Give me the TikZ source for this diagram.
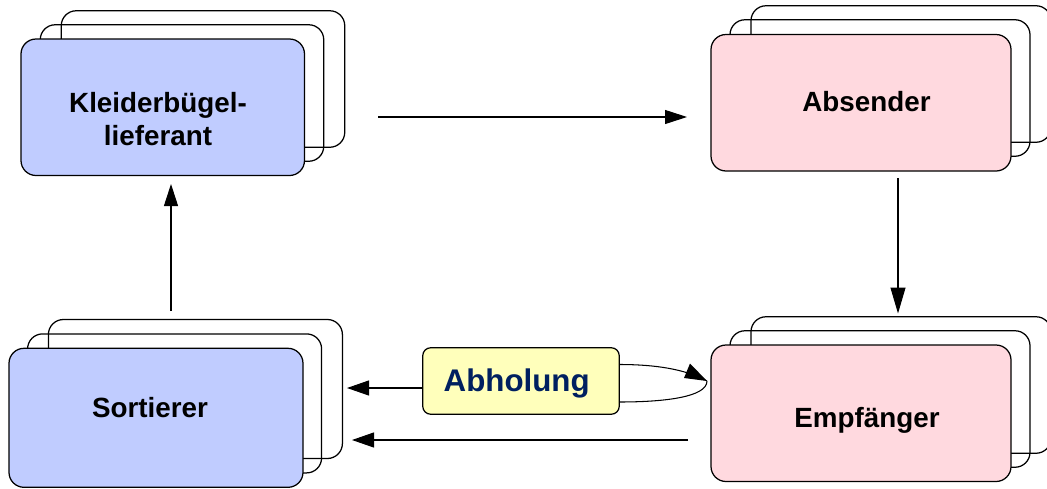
\documentclass[tikz,border=0pt]{standalone}
\usepackage{fontspec}
\setmainfont{Liberation Sans}
\usetikzlibrary{arrows.meta}
\definecolor{bluefill}{HTML}{C0CCFF}
\definecolor{pinkfill}{HTML}{FFD9DF}
\definecolor{yellowfill}{HTML}{FFFFBB}
\definecolor{navytext}{HTML}{002060}
\tikzset{
  x=1pt,y=-1pt,
  card/.style={draw=black,line width=1.25pt,rounded corners=15pt,inner sep=0pt,outer sep=0pt},
  kw/.style={card,minimum width=283.5pt,minimum height=136.5pt},
  aw/.style={card,minimum width=300pt,minimum height=136.5pt},
  sw/.style={card,minimum width=294pt,minimum height=139pt},
  lbl/.style={font=\bfseries\fontsize{27.8}{32}\selectfont,text=black,anchor=base,inner sep=0pt},
  flow/.style={draw=black,line width=1.05pt,-{Triangle[length=22pt,width=14pt]}},
  flowbig/.style={draw=black,line width=1.05pt,-{Triangle[length=22pt,width=15pt]}},
  flowlong/.style={draw=black,line width=1.05pt,-{Triangle[length=26pt,width=15pt]}},
  plain/.style={draw=black,line width=1.05pt},
}
\begin{document}
\begin{tikzpicture}
\clip (0,0) rectangle (1047,488);
% Kleiderbügellieferant
\node[kw] (k3) at (203,79) {};
\node[kw] (k2) at (182,93) {};
\node[kw,fill=bluefill] (k1) at (162.75,107.25) {};
\node[lbl] (ktext1) at (158,112) {Kleiderbügel-};
\node[lbl] (ktext2) at (158,145.5) {lieferant};
% Absender
\node[aw] (a3) at (901,74) {};
\node[aw] (a2) at (880,88) {};
\node[aw,fill=pinkfill] (a1) at (861,102.75) {};
\node[lbl] (atext) at (866.5,111.5) {Absender};
% Empfänger
\node[aw] (e3) at (901,385) {};
\node[aw] (e2) at (880,399) {};
\node[aw,fill=pinkfill] (e1) at (861,413.25) {};
\node[lbl] (etext) at (867,427) {Empfänger};
% Sortierer
\node[sw] (s3) at (195.4,389) {};
\node[sw] (s2) at (174.6,403.4) {};
\node[sw,fill=bluefill] (s1) at (156,417.8) {};
\node[lbl] (stext) at (150,417) {Sortierer};
% Abholung
\node[draw=black,line width=1.25pt,rounded corners=8pt,fill=yellowfill,minimum width=196.5pt,minimum height=66.5pt,inner sep=0pt,outer sep=0pt] (abh) at (521,381) {};
\node[font=\bfseries\fontsize{31.3}{36}\selectfont,text=navytext,anchor=base,inner sep=0pt] (abhtext) at (516.7,391) {Abholung};
% free ends
\coordinate (topfrom) at (378,117);
\coordinate (topto) at (687,117);
\coordinate (rightfrom) at (898,178);
\coordinate (rightto) at (898,313.5);
\coordinate (leftfrom) at (171,311);
\coordinate (leftto) at (171,184);
\coordinate (abhto) at (347,388);
\coordinate (lowfrom) at (688,440);
\coordinate (lowto) at (352,440);
\coordinate (tip) at (707,381);
\draw[flow] (topfrom) -- (topto);
\draw[flowlong] (rightfrom) -- (rightto);
\draw[flow] (leftfrom) -- (leftto);
\draw[flowbig] (abh.west |- abhto) -- (abhto);
\draw[flowbig] (lowfrom) -- (lowto);
\draw[plain] (abh.east |- 0,364.5) .. controls (655,364.5) and (685,369) .. (tip);
\draw[plain] (abh.east |- 0,402) .. controls (665,402) and (707,397) .. (tip);
\fill[black] (tip) -- (684,378) -- (690,363.5) -- cycle;
\end{tikzpicture}
\end{document}
